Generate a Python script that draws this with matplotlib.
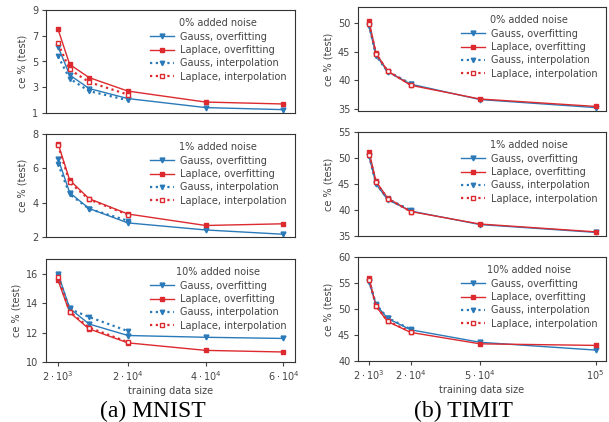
import matplotlib
matplotlib.use("Agg")
import matplotlib.pyplot as plt

# ---------------- data ----------------
mnist_x = [2000, 5000, 10000, 20000, 40000, 60000]
timit_x = [2000, 5000, 10000, 20000, 50000, 100000]
interp_n = 4  # interpolation runs only up to 2e4

noise_labels = ["0% added noise", "1% added noise", "10% added noise"]
series_labels = ["Gauss, overfitting", "Laplace, overfitting",
                 "Gauss, interpolation", "Laplace, interpolation"]

# MNIST
mnist_gauss_over = [
    [6.15, 3.95, 2.9, 2.12, 1.42, 1.26],
    [6.56, 4.58, 3.66, 2.82, 2.41, 2.16],
    [16.0, 13.64, 12.58, 11.8, 11.68, 11.6],
]
mnist_laplace_over = [
    [7.5, 4.77, 3.75, 2.7, 1.85, 1.7],
    [7.44, 5.31, 4.23, 3.34, 2.67, 2.77],
    [15.55, 13.37, 12.25, 11.3, 10.79, 10.68],
]
mnist_gauss_interp = [
    [5.4, 3.67, 2.7, 1.99],
    [6.26, 4.49, 3.64, 2.95],
    [15.84, 13.6, 13.06, 12.1],
]
mnist_laplace_interp = [
    [6.4, 4.38, 3.4, 2.43],
    [7.35, 5.18, 4.19, 3.3],
    [15.78, 13.42, 12.34, 11.35],
]

# TIMIT
timit_gauss_over = [
    [49.4, 44.4, 41.5, 39.3, 36.6, 35.2],
    [50.3, 45.0, 42.0, 39.8, 37.2, 35.7],
    [55.2, 50.8, 48.2, 46.0, 43.6, 42.1],
]
timit_laplace_over = [
    [50.3, 44.7, 41.6, 39.1, 36.7, 35.4],
    [51.2, 45.5, 42.3, 39.7, 37.3, 35.8],
    [56.0, 50.5, 47.6, 45.5, 43.3, 43.0],
]
timit_gauss_interp = [
    [49.6, 44.3, 41.5, 39.4],
    [50.4, 45.1, 42.1, 40.0],
    [55.4, 50.9, 48.3, 46.1],
]
timit_laplace_interp = [
    [49.8, 44.6, 41.6, 39.2],
    [50.6, 45.3, 42.2, 39.7],
    [55.6, 50.6, 47.7, 45.6],
]

mnist_ylims = [(1, 9), (2, 8), (10, 17)]
mnist_yticks = [[1, 3, 5, 7, 9], [2, 4, 6, 8], [10, 12, 14, 16]]
timit_ylims = [(34.6, 52.8), (35, 55), (40, 60)]
timit_yticks = [[35, 40, 45, 50], [35, 40, 45, 50, 55], [40, 45, 50, 55, 60]]

mnist_xticks = [2000, 20000, 40000, 60000]
mnist_xticklabels = [r"$2\cdot10^3$", r"$2\cdot10^4$", r"$4\cdot10^4$", r"$6\cdot10^4$"]
timit_xticks = [2000, 20000, 50000, 100000]
timit_xticklabels = [r"$2\cdot10^3$", r"$2\cdot10^4$", r"$5\cdot10^4$", r"$10^5$"]

# ---------------- style ----------------
BLUE = "#2a7ab9"
RED = "#dc2a2f"
TXT = "#444444"
plt.rcParams["font.family"] = ["DejaVu Sans"]
plt.rcParams["mathtext.fontset"] = "dejavusans"

fig = plt.figure(figsize=(6.09, 4.22), dpi=100)

mnist_rects = [
    (46 / 609, 1 - 113 / 422, 249 / 609, 103 / 422),
    (46 / 609, 1 - 237 / 422, 249 / 609, 103 / 422),
    (46 / 609, 1 - 362 / 422, 249 / 609, 103 / 422),
]
timit_rects = [
    (358 / 609, 1 - 111 / 422, 248 / 609, 104 / 422),
    (358 / 609, 1 - 236 / 422, 248 / 609, 104 / 422),
    (358 / 609, 1 - 361 / 422, 248 / 609, 104 / 422),
]


def draw_panel(ax, x, go, lo, gi, li, ylim, yticks, title, xticks, xtl, xlim, last):
    ax.plot(x, go, color=BLUE, lw=1.0, marker="v", ms=3.5, label=series_labels[0])
    ax.plot(x, lo, color=RED, lw=1.0, marker="s", ms=3.5, label=series_labels[1])
    ax.plot(x[:interp_n], gi, color=BLUE, lw=1.6, ls=(0, (1, 1.6)), marker="v", ms=3.2,
            label=series_labels[2])
    ax.plot(x[:interp_n], li, color=RED, lw=1.6, ls=(0, (1, 1.6)), marker="s", ms=3.5,
            mfc="white", mew=1.0, label=series_labels[3])
    ax.set_ylim(*ylim)
    ax.set_yticks(yticks)
    ax.set_xlim(*xlim)
    ax.set_xticks(xticks)
    if last:
        ax.set_xticklabels(xtl)
        ax.set_xlabel("training data size", fontsize=7, color=TXT, labelpad=1.5)
    else:
        ax.tick_params(axis="x", bottom=False, labelbottom=False)
    ax.set_ylabel("ce % (test)", fontsize=7, color=TXT, labelpad=3)
    ax.tick_params(labelsize=7, colors=TXT, length=3, width=0.8, direction="out", pad=2.5)
    for s in ax.spines.values():
        s.set_linewidth(0.8)
        s.set_color("#333333")
    leg = ax.legend(loc="upper right", frameon=False, fontsize=7, title=title,
                    title_fontsize=7, handlelength=2.5, labelspacing=0.35,
                    borderaxespad=0.45, handletextpad=0.6)
    leg.get_title().set_color(TXT)
    for t in leg.get_texts():
        t.set_color(TXT)


for i in range(3):
    ax = fig.add_axes(mnist_rects[i])
    draw_panel(ax, mnist_x, mnist_gauss_over[i], mnist_laplace_over[i],
               mnist_gauss_interp[i], mnist_laplace_interp[i],
               mnist_ylims[i], mnist_yticks[i], noise_labels[i],
               mnist_xticks, mnist_xticklabels, (-1100, 63000), i == 2)
    ax = fig.add_axes(timit_rects[i])
    draw_panel(ax, timit_x, timit_gauss_over[i], timit_laplace_over[i],
               timit_gauss_interp[i], timit_laplace_interp[i],
               timit_ylims[i], timit_yticks[i], noise_labels[i],
               timit_xticks, timit_xticklabels, (-2800, 104500), i == 2)

fig.text(153 / 609, 1 - 417 / 422, "(a) MNIST", ha="center", va="baseline",
         fontsize=17, family=["Liberation Serif", "DejaVu Serif"], color="black")
fig.text(463 / 609, 1 - 417 / 422, "(b) TIMIT", ha="center", va="baseline",
         fontsize=17, family=["Liberation Serif", "DejaVu Serif"], color="black")

fig.savefig("out.png", dpi=100)
